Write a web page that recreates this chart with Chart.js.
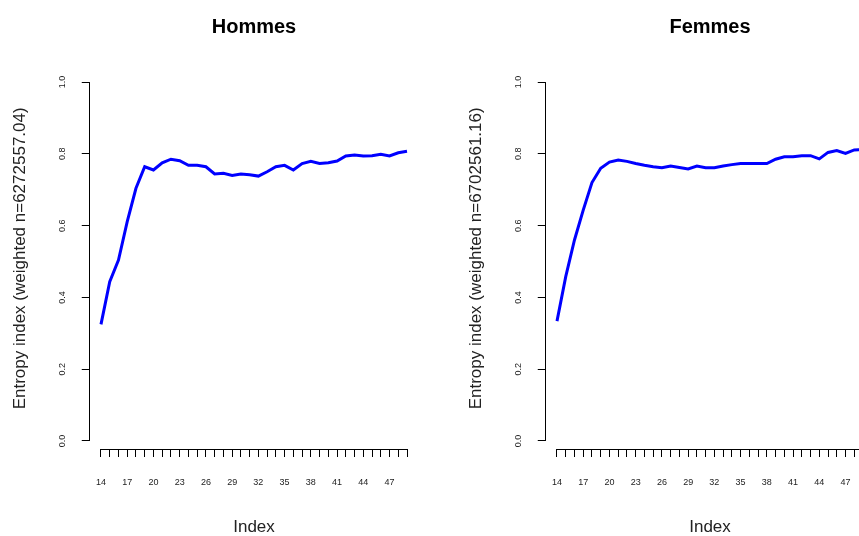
<!DOCTYPE html>
<html>
<head>
<meta charset="utf-8">
<script src="https://cdn.jsdelivr.net/npm/chart.js@4"></script>
<style>
  html, body { margin: 0; padding: 0; background: #fff; }
  body { width: 859px; height: 536px; overflow: hidden; position: relative; }
  .panel { position: absolute; top: 0; width: 456px; height: 536px; }
</style>
</head>
<body>
<div class="panel" style="left:0"><canvas id="hommes"></canvas></div>
<div class="panel" style="left:456px"><canvas id="femmes"></canvas></div>
<script>
// ages on the x axis
const ages = [14, 15, 16, 17, 18, 19, 20, 21, 22, 23, 24, 25, 26, 27, 28, 29, 30, 31,
              32, 33, 34, 35, 36, 37, 38, 39, 40, 41, 42, 43, 44, 45, 46, 47, 48, 49];
const yTicks = [0, 0.2, 0.4, 0.6, 0.8, 1.0];

// entropy index, men
const hommes = [0.325, 0.444, 0.504, 0.611, 0.704, 0.764, 0.755, 0.775, 0.785, 0.781,
                 0.768, 0.768, 0.764, 0.744, 0.746, 0.740, 0.744, 0.742, 0.738, 0.750,
                 0.764, 0.768, 0.755, 0.773, 0.779, 0.773, 0.775, 0.780, 0.794, 0.797,
                 0.794, 0.795, 0.799, 0.794, 0.803, 0.807];
// entropy index, women
const femmes = [0.334, 0.458, 0.560, 0.643, 0.720, 0.760, 0.777, 0.783, 0.779, 0.773,
                0.768, 0.764, 0.761, 0.766, 0.762, 0.758, 0.766, 0.761, 0.761, 0.766,
                0.770, 0.773, 0.773, 0.773, 0.773, 0.785, 0.792, 0.792, 0.795, 0.795,
                0.786, 0.804, 0.809, 0.801, 0.811, 0.812];

const FONT = '"Liberation Sans", Arial, sans-serif';
Chart.defaults.font.family = FONT;
Chart.defaults.color = '#000';

// R style axes: the lines only run from first to last tick
const axisLines = {
  id: 'axisLines',
  afterDraw(chart) {
    const {ctx} = chart;
    const x = chart.scales.x, y = chart.scales.y;
    ctx.save();
    ctx.strokeStyle = '#000';
    ctx.lineWidth = 1;
    ctx.beginPath();
    const lx = Math.round(y.right) + 0.5;
    ctx.moveTo(lx, y.getPixelForValue(yTicks[0]));
    ctx.lineTo(lx, y.getPixelForValue(yTicks[yTicks.length - 1]));
    const by = Math.round(x.top) + 0.5;
    ctx.moveTo(x.getPixelForValue(ages[0]), by);
    ctx.lineTo(x.getPixelForValue(ages[ages.length - 1]), by);
    ctx.stroke();
    ctx.restore();
  }
};

// main title centred over the plot region, like R's title()
const panelTitle = {
  id: 'panelTitle',
  afterDraw(chart, args, opts) {
    const {ctx, chartArea} = chart;
    ctx.save();
    ctx.font = 'bold 20px ' + FONT;
    ctx.fillStyle = '#000';
    ctx.textAlign = 'center';
    ctx.textBaseline = 'middle';
    ctx.fillText(opts.text, (chartArea.left + chartArea.right) / 2, 27);
    ctx.restore();
  }
};

function makeChart(id, title, values, yTitle) {
  return new Chart(document.getElementById(id), {
    type: 'line',
    data: {
      datasets: [{
        data: ages.map((a, i) => ({x: a, y: values[i]})),
        borderColor: '#0000ff',
        borderWidth: 3,
        pointRadius: 0,
        tension: 0,
        fill: false
      }]
    },
    options: {
      responsive: false,
      animation: false,
      devicePixelRatio: 1,
      layout: { padding: { left: 0, right: 36.75, top: 67.7, bottom: 0 } },
      plugins: {
        legend: { display: false },
        tooltip: { enabled: false },
        title: { display: false },
        panelTitle: { text: title }
      },
      scales: {
        x: {
          type: 'linear',
          min: 12.6,
          max: 50.4,
          afterBuildTicks: s => { s.ticks = ages.map(v => ({value: v})); },
          afterFit: s => { s.height = 87; },
          border: { display: false },
          grid: { drawOnChartArea: false, drawTicks: true, tickLength: 8, color: '#000' },
          ticks: {
            autoSkip: false,
            maxRotation: 0,
            padding: 20,
            font: { size: 9 },
            color: '#222',
            callback: v => ((v - ages[0]) % 3 === 0 ? String(v) : '')
          },
          title: {
            display: true,
            text: 'Index',
            font: { size: 17, lineHeight: 1 },
            color: '#222',
            padding: { top: 0, bottom: 0 }
          }
        },
        y: {
          type: 'linear',
          min: -0.0223,
          max: 1.04,
          afterBuildTicks: s => { s.ticks = yTicks.map(v => ({value: v})); },
          afterFit: s => { s.width = 88.75; },
          border: { display: false },
          grid: { drawOnChartArea: false, drawTicks: true, tickLength: 7, color: '#000' },
          ticks: {
            minRotation: 90,
            maxRotation: 90,
            crossAlign: 'center',
            padding: 13,
            font: { size: 9 },
            color: '#222',
            callback: v => v.toFixed(1)
          },
          title: {
            display: true,
            text: yTitle,
            font: { size: 17, lineHeight: 1 },
            color: '#222',
            padding: { top: 12, bottom: 0 }
          }
        }
      }
    },
    plugins: [axisLines, panelTitle]
  });
}

for (const id of ['hommes', 'femmes']) {
  const c = document.getElementById(id);
  c.width = 456; c.height = 536;
}
makeChart('hommes', 'Hommes', hommes, 'Entropy index (weighted n=6272557.04)');
makeChart('femmes', 'Femmes', femmes, 'Entropy index (weighted n=6702561.16)');
</script>
</body>
</html>
